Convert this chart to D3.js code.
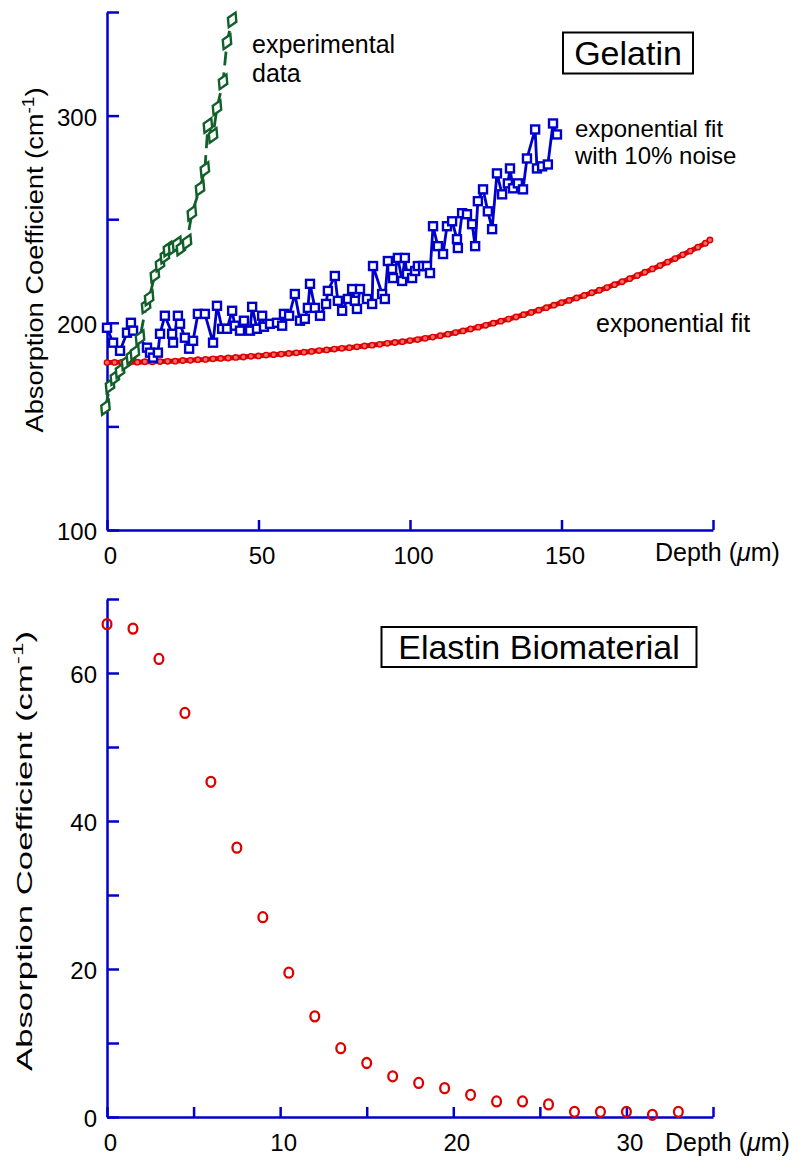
<!DOCTYPE html>
<html>
<head>
<meta charset="utf-8">
<script src="https://cdn.jsdelivr.net/npm/d3@7"></script>
<style>
  body { margin: 0; background: #fff; }
  text { font-family: "Liberation Sans", Arial, Helvetica, sans-serif; fill: #000; }
</style>
</head>
<body>
<div id="chart"></div>
<script>
// ---- data, gelatin panel ----
var expDepth = [-0.5, 1.0, 2.6, 4.3, 6.3, 7.9, 9.2, 10.9, 12.9, 13.9, 15.8, 17.5, 19.1,
  20.1, 21.8, 23.1, 24.4, 26.4, 28.0, 30.7, 32.3, 33.3, 35.0, 36.3, 38.3, 39.6, 41.3];
var expValue = [159.1, 169.7, 173.6, 176.9, 180.8, 183.7, 185.6, 192.8, 208.2, 212.0, 223.1, 228.4, 232.2,
  235.6, 236.5, 238.0, 236.1, 239.0, 252.9, 264.9, 274.0, 295.2, 290.4, 303.8, 316.3, 335.6, 346.2];

var noiseDepth = [0, 2.0, 4.3, 6.6, 7.9, 8.6, 13.2, 14.2, 15.2, 16.8, 17.5, 19.1, 21.5, 21.8,
  23.4, 24.1, 25.7, 27.1, 28.4, 30.0, 32.3, 35.0, 36.3, 38.0, 39.6, 41.3, 42.2, 43.9, 45.2,
  47.2, 47.9, 49.5, 51.2, 51.8, 53.8, 56.1, 57.8, 58.4, 60.1, 62.0, 63.7, 65.3, 66.3, 67.0,
  68.6, 70.3, 72.3, 72.9, 75.2, 76.2, 77.6, 79.5, 80.9, 81.8, 82.5, 83.5, 85.8, 87.5, 87.8,
  90.8, 91.7, 92.7, 94.1, 94.4, 96.0, 97.4, 98.3, 99.0, 100.7, 101.7, 102.6, 104.3, 105.6,
  106.6, 107.6, 109.2, 110.9, 112.2, 113.9, 115.5, 115.8, 117.2, 118.8, 120.5, 121.5, 122.4,
  124.1, 125.7, 127.1, 128.7, 130.4, 132.3, 133.0, 134.0, 135.6, 137.3, 138.6, 141.3, 141.9,
  143.6, 145.5, 147.2, 148.5];
var noiseValue = [197.6, 190.4, 186.5, 195.2, 200.0, 196.2, 188.0, 185.6, 183.2, 185.6, 194.7, 203.4, 194.7, 190.4,
  203.4, 199.5, 192.8, 187.5, 191.3, 204.3, 204.3, 190.4, 208.2, 197.1, 197.1, 205.8, 198.6, 196.2, 201.0,
  196.2, 207.7, 197.1, 203.4, 198.1, 199.5, 200.0, 198.6, 204.3, 203.4, 213.9, 201.0, 201.9, 207.2, 218.8,
  207.2, 203.4, 209.1, 215.4, 222.6, 210.6, 205.8, 211.5, 216.3, 210.6, 206.7, 216.3, 211.5, 209.1, 227.4,
  213.9, 211.5, 229.8, 226.0, 221.6, 231.3, 220.2, 231.3, 223.6, 221.6, 225.0, 227.4, 227.4, 227.4,
  224.0, 246.6, 237.0, 233.2, 246.6, 249.0, 240.4, 236.1, 252.9, 252.4, 247.6, 237.0, 258.7,
  264.4, 253.8, 245.2, 272.1, 262.0, 267.3, 274.5, 264.9, 267.3, 264.4, 279.3, 293.3, 274.5,
  275.5, 276.4, 296.2, 290.9];

var fitDepth = [0, 2.5, 5, 7.5, 10, 12.5, 15, 17.5, 20, 22.5, 25, 27.5, 30, 32.5, 35, 37.5, 40, 42.5,
  45, 47.5, 50, 52.5, 55, 57.5, 60, 62.5, 65, 67.5, 70, 72.5, 75, 77.5, 80, 82.5, 85, 87.5, 90, 92.5,
  95, 97.5, 100, 102.5, 105, 107.5, 110, 112.5, 115, 117.5, 120, 122.5, 125, 127.5, 130, 132.5, 135,
  137.5, 140, 142.5, 145, 147.5, 150, 152.5, 155, 157.5, 160, 162.5, 165, 167.5, 170, 172.5, 175,
  177.5, 180, 182.5, 185, 187.5, 190, 192.5, 195, 197.5, 199];
var fitValue = [180.8, 180.9, 181.0, 181.1, 181.0, 181.2, 181.2, 181.3, 181.4, 181.5, 181.8, 181.9, 182.2,
  182.3, 182.6, 182.8, 183.0, 183.3, 183.5, 183.8, 184.0, 184.4, 184.6, 184.9, 185.2, 185.5, 185.8,
  186.2, 186.6, 186.9, 187.3, 187.7, 188.0, 188.4, 188.8, 189.2, 189.6, 190.1, 190.5, 190.9, 191.4,
  191.9, 192.5, 193.1, 193.8, 194.5, 195.3, 196.1, 197.0, 197.9, 198.8, 199.8, 200.8, 201.8, 202.8,
  203.9, 205.0, 206.1, 207.3, 208.5, 209.7, 210.8, 212.0, 213.2, 214.5, 215.7, 217.0, 218.4, 219.8,
  221.3, 222.8, 224.4, 226.0, 227.6, 229.3, 231.0, 232.8, 234.6, 236.5, 238.4, 240.0];

var gelYTicks = [100, 150, 200, 250, 300, 350];
var gelYLabels = [100, 200, 300];
var gelXTicks = [0, 50, 100, 150, 200];
var gelXLabels = [0, 50, 100, 150];

// ---- data, elastin panel ----
var elDepth = [0, 1.5, 3, 4.5, 6, 7.5, 9, 10.5, 12, 13.5, 15, 16.5, 18, 19.5, 21, 22.5,
  24, 25.5, 27, 28.5, 30, 31.5, 33];
var elValue = [66.6, 66.0, 61.9, 54.6, 45.3, 36.4, 27.0, 19.5, 13.6, 9.3, 7.3, 5.5, 4.6, 3.9, 3.0, 2.1,
  2.1, 1.7, 0.7, 0.7, 0.7, 0.3, 0.7];
var elYTicks = [0, 10, 20, 30, 40, 50, 60, 70];
var elYLabels = [0, 20, 40, 60];
var elXTicks = [0, 5, 10, 15, 20, 25, 30, 35];
var elXLabels = [0, 10, 20, 30];

var blue = "#0000cc", red = "#dd0000", green = "#11602a";
var W = 799, H = 1160;

var svg = d3.select("#chart").append("svg")
    .attr("width", W)
    .attr("height", H);

// draws the two blue axes of one panel
function drawAxes(x, y, xt, xl, yt, yl) {
  var x0 = x.range()[0], y0 = y.range()[0];
  var xa = d3.axisBottom(x).tickValues(xt).tickSizeInner(-10).tickSizeOuter(0)
      .tickPadding(17).tickFormat(function(d) { return xl.indexOf(d) >= 0 ? d : ""; });
  var ya = d3.axisLeft(y).tickValues(yt).tickSizeInner(-12).tickSizeOuter(0)
      .tickPadding(10).tickFormat(function(d) { return yl.indexOf(d) >= 0 ? d : ""; });

  var gx = svg.append("g").attr("transform", "translate(0," + y0 + ")").call(xa);
  var gy = svg.append("g").attr("transform", "translate(" + x0 + ",0)").call(ya);
  [gx, gy].forEach(function(g) {
    g.select(".domain").attr("stroke", blue).attr("stroke-width", 2.5);
    g.selectAll(".tick line").attr("stroke", blue).attr("stroke-width", 2.5);
    g.selectAll(".tick text").attr("font-size", 24).attr("fill", "#000")
      .style("font-family", "'Liberation Sans', Arial, sans-serif");
  });
  gx.selectAll(".tick text").attr("dy", "0.71em").attr("dx", 3);
  gy.selectAll(".tick text").attr("dy", "0.4em");
}

function depthLabel(xp, yp) {
  var t = svg.append("text").attr("x", xp).attr("y", yp).attr("font-size", 25);
  t.append("tspan").text("Depth (");
  t.append("tspan").attr("font-style", "italic").text("\u03bc");
  t.append("tspan").text("m)");
}

function yTitle(xp, yp, size, len) {
  var t = svg.append("text")
      .attr("transform", "translate(" + xp + "," + yp + ") rotate(-90)")
      .attr("text-anchor", "middle")
      .attr("font-size", size)
      .attr("textLength", len)
      .attr("lengthAdjust", "spacingAndGlyphs");
  t.append("tspan").text("Absorption Coefficient (cm");
  t.append("tspan").attr("font-size", size * 0.7).attr("dy", -size * 0.4).text("-1");
  t.append("tspan").attr("dy", size * 0.4).text(")");
}

function boxTitle(cx, cy, w, h, label) {
  svg.append("rect").attr("x", cx - w / 2).attr("y", cy - h / 2)
     .attr("width", w).attr("height", h)
     .attr("fill", "#fff").attr("stroke", "#000").attr("stroke-width", 2);
  svg.append("text").attr("x", cx).attr("y", cy).attr("dy", "0.36em")
     .attr("text-anchor", "middle").attr("font-size", 34).text(label);
}

// ================= Gelatin =================
var gx = d3.scaleLinear().domain([0, 200]).range([107, 713]);
var gy = d3.scaleLinear().domain([100, 350]).range([530, 12]);

drawAxes(gx, gy, gelXTicks, gelXLabels, gelYTicks, gelYLabels);
depthLabel(655, 561);
yTitle(43, 260, 23, 345);
boxTitle(628, 53, 130, 41, "Gelatin");

// exponential fit: dense red dots
var fit = d3.zip(fitDepth, fitValue);
svg.append("path").datum(fit)
   .attr("fill", "none").attr("stroke", red).attr("stroke-width", 5)
   .attr("d", d3.line().x(function(d) { return gx(d[0]); }).y(function(d) { return gy(d[1]); }));
svg.append("g").selectAll("circle").data(fit).enter().append("circle")
   .attr("cx", function(d) { return gx(d[0]); })
   .attr("cy", function(d) { return gy(d[1]); })
   .attr("r", 2.7).attr("fill", "#f26a6a").attr("stroke", red).attr("stroke-width", 1.4);

// fit with 10% noise: blue squares joined by a line
var noise = d3.zip(noiseDepth, noiseValue);
svg.append("path").datum(noise)
   .attr("fill", "none").attr("stroke", blue).attr("stroke-width", 2.8)
   .attr("d", d3.line().x(function(d) { return gx(d[0]); }).y(function(d) { return gy(d[1]); }));
svg.append("g").selectAll("rect").data(noise).enter().append("rect")
   .attr("x", function(d) { return gx(d[0]) - 4; })
   .attr("y", function(d) { return gy(d[1]) - 4; })
   .attr("width", 8).attr("height", 8)
   .attr("fill", "#fff").attr("stroke", blue).attr("stroke-width", 2.4);

// experimental data: green diamonds, dashed line
var exp = d3.zip(expDepth, expValue);
svg.append("path").datum(exp)
   .attr("fill", "none").attr("stroke", green).attr("stroke-width", 2.8)
   .attr("stroke-dasharray", "14,7")
   .attr("d", d3.line().x(function(d) { return gx(d[0]); }).y(function(d) { return gy(d[1]); }));
var diamond = d3.symbol().type(d3.symbolDiamond).size(75);
svg.append("g").selectAll("path").data(exp).enter().append("path")
   .attr("transform", function(d) { return "translate(" + gx(d[0]) + "," + gy(d[1]) + ") rotate(25)"; })
   .attr("d", diamond)
   .attr("fill", "#fff").attr("stroke", green).attr("stroke-width", 2.4);

// annotations
svg.append("text").attr("x", 252).attr("y", 53).attr("font-size", 25).text("experimental");
svg.append("text").attr("x", 252).attr("y", 82).attr("font-size", 25).text("data");
svg.append("text").attr("x", 575).attr("y", 137).attr("font-size", 24).text("exponential fit");
svg.append("text").attr("x", 575).attr("y", 164).attr("font-size", 24).text("with 10% noise");
svg.append("text").attr("x", 596).attr("y", 332).attr("font-size", 25).text("exponential fit");

// ================= Elastin =================
var ex = d3.scaleLinear().domain([0, 35]).range([107, 713]);
var ey = d3.scaleLinear().domain([0, 70]).range([1117, 599]);

drawAxes(ex, ey, elXTicks, elXLabels, elYTicks, elYLabels);
depthLabel(665, 1151);
yTitle(32, 851, 22, 440);
boxTitle(539, 647, 315, 40, "Elastin Biomaterial");

svg.append("g").selectAll("ellipse").data(d3.zip(elDepth, elValue)).enter().append("ellipse")
   .attr("cx", function(d) { return ex(d[0]); })
   .attr("cy", function(d) { return ey(d[1]); })
   .attr("rx", 4.4).attr("ry", 5)
   .attr("fill", "none").attr("stroke", red).attr("stroke-width", 2.3);
</script>
</body>
</html>
